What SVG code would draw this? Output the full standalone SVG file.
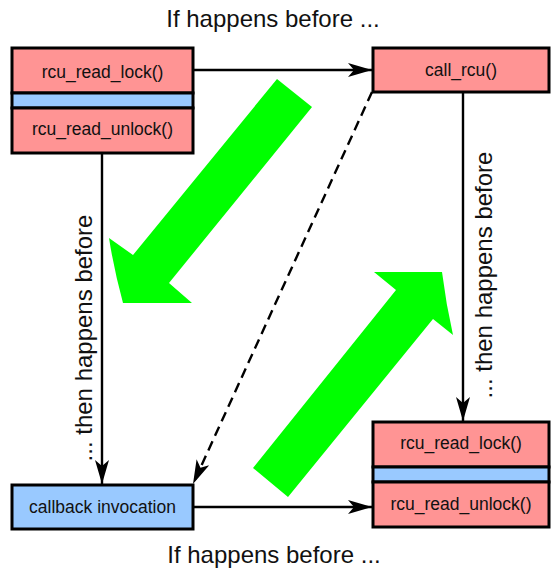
<svg xmlns="http://www.w3.org/2000/svg" width="551" height="575" viewBox="0 0 551 575">
<style>
  .red { fill: #ff9494; stroke: #000; stroke-width: 3; }
  .blue { fill: #99c9ff; stroke: #000; stroke-width: 3; }
  .lbl { font-family: "Liberation Sans", Arial, sans-serif; font-size: 17.5px; fill: #111; text-anchor: middle; }
  .big { font-family: "Liberation Sans", Arial, sans-serif; font-size: 24px; fill: #111; text-anchor: middle; }
  .conn { stroke: #000; stroke-width: 2.4; fill: none; }
  .dash { stroke-dasharray: 10 6; }
  .green { fill: #00ff00; stroke: none; }
</style>
<defs>
  <marker id="ah" markerWidth="26" markerHeight="16" refX="24" refY="7" orient="auto" markerUnits="userSpaceOnUse">
    <path d="M0,0 L24,7 L0,14 L6,7 Z" fill="#000"/>
  </marker>
</defs>

<g id="green-arrows">
  <path class="green" d="M277,79 L312,107 L169,283 L192,303 L123,303 Q114,270 109,238 L133,255 Z"/>
  <path class="green" d="M253,468 L396,290 L374,272 L442,272 Q446,304 453,335 L433,319 L288,497 Z"/>
</g>

<g id="connectors">
  <line class="conn" x1="193" y1="70" x2="372" y2="70" marker-end="url(#ah)"/>
  <line class="conn" x1="193" y1="507" x2="372" y2="507" marker-end="url(#ah)"/>
  <line class="conn" x1="102" y1="153" x2="102" y2="484" marker-end="url(#ah)"/>
  <line class="conn" x1="463" y1="92" x2="463" y2="421" marker-end="url(#ah)"/>
  <line class="conn dash" x1="372" y1="92" x2="193" y2="484" marker-end="url(#ah)"/>
</g>

<g id="reader1">
  <rect class="red" x="12" y="48" width="181" height="45"/>
  <rect class="blue" x="12" y="93" width="181" height="15"/>
  <rect class="red" x="12" y="108" width="181" height="45"/>
  <text class="lbl" x="102.5" y="77.5">rcu_read_lock()</text>
  <text class="lbl" x="102.5" y="135">rcu_read_unlock()</text>
</g>

<g id="call-rcu">
  <rect class="red" x="373" y="48" width="176" height="44"/>
  <text class="lbl" x="461" y="76">call_rcu()</text>
</g>

<g id="reader2">
  <rect class="red" x="373" y="422" width="176" height="45"/>
  <rect class="blue" x="373" y="467" width="176" height="15"/>
  <rect class="red" x="373" y="482" width="176" height="45"/>
  <text class="lbl" x="461" y="449">rcu_read_lock()</text>
  <text class="lbl" x="461" y="510">rcu_read_unlock()</text>
</g>

<g id="callback">
  <rect class="blue" x="12" y="485" width="181" height="44"/>
  <text class="lbl" x="102.5" y="513">callback invocation</text>
</g>

<g id="labels">
  <text class="big" x="273" y="27">If happens before ...</text>
  <text class="big" x="274" y="563">If happens before ...</text>
  <text class="big" transform="translate(92,338) rotate(-90)">... then happens before</text>
  <text class="big" transform="translate(492,275) rotate(-90)">... then happens before</text>
</g>
</svg>
